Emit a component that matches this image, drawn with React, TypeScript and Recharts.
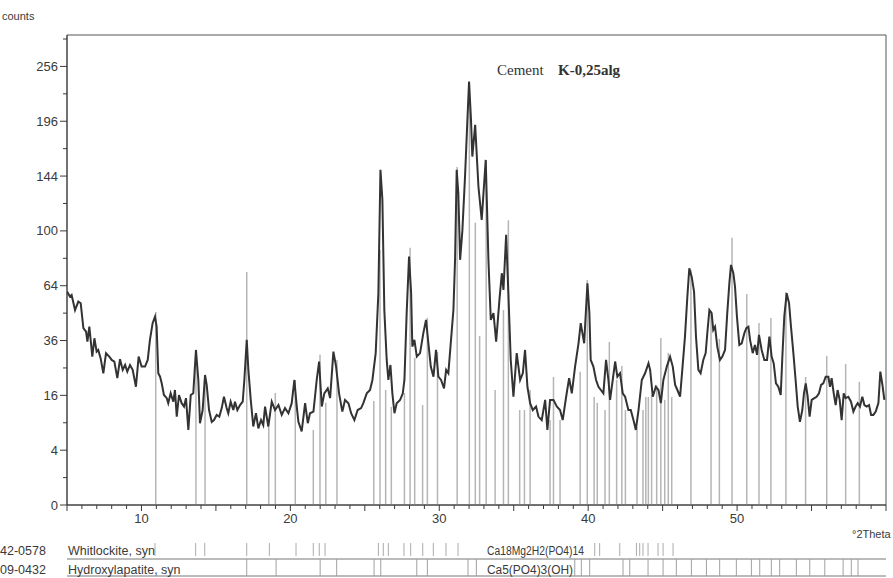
import { ComposedChart, Line, XAxis, YAxis, ReferenceLine, ReferenceArea } from "recharts";

// XRD scan: 2theta (deg) and counts
const twoTheta = [
  5.0, 5.2, 5.31, 5.54, 5.76, 5.92, 6.1, 6.28, 6.37, 6.5,
  6.7, 6.84, 6.99, 7.1, 7.26, 7.44, 7.62, 7.84, 8.0, 8.18,
  8.38, 8.56, 8.74, 8.9, 9.05, 9.23, 9.41, 9.63, 9.81, 10.01,
  10.24, 10.42, 10.57, 10.75, 10.91, 11.02, 11.13, 11.25, 11.36, 11.51,
  11.7, 11.8, 11.96, 12.14, 12.25, 12.37, 12.52, 12.7, 12.86, 12.99,
  13.15, 13.31, 13.48, 13.66, 13.82, 13.93, 14.11, 14.27, 14.38, 14.54,
  14.72, 14.87, 15.05, 15.23, 15.39, 15.54, 15.72, 15.83, 15.99, 16.17,
  16.28, 16.44, 16.62, 16.8, 16.91, 17.07, 17.18, 17.34, 17.51, 17.69,
  17.85, 18.03, 18.18, 18.3, 18.52, 18.75, 18.97, 19.2, 19.42, 19.64,
  19.87, 20.09, 20.27, 20.43, 20.54, 20.76, 20.99, 21.17, 21.32, 21.55,
  21.77, 21.93, 22.11, 22.28, 22.51, 22.67, 22.89, 23.07, 23.27, 23.49,
  23.67, 23.9, 24.08, 24.3, 24.52, 24.75, 24.9, 25.13, 25.35, 25.51,
  25.73, 25.91, 26.05, 26.18, 26.31, 26.47, 26.58, 26.72, 26.85, 26.99,
  27.14, 27.37, 27.55, 27.66, 27.81, 27.97, 28.11, 28.19, 28.33, 28.49,
  28.71, 28.93, 29.11, 29.27, 29.43, 29.61, 29.78, 29.94, 30.12, 30.32,
  30.46, 30.61, 30.77, 30.95, 31.06, 31.17, 31.28, 31.4, 31.55, 31.73,
  31.87, 32.0, 32.13, 32.22, 32.41, 32.63, 32.85, 33.12, 33.3, 33.46,
  33.64, 33.82, 34.04, 34.2, 34.31, 34.49, 34.64, 34.8, 34.98, 35.2,
  35.43, 35.61, 35.76, 35.92, 36.1, 36.28, 36.5, 36.66, 36.88, 37.11,
  37.26, 37.44, 37.67, 37.89, 38.11, 38.29, 38.52, 38.72, 38.9, 39.12,
  39.35, 39.5, 39.73, 39.95, 40.08, 40.17, 40.35, 40.53, 40.69, 40.85,
  41.02, 41.2, 41.36, 41.47, 41.65, 41.81, 41.96, 42.14, 42.32, 42.48,
  42.7, 42.86, 43.04, 43.2, 43.38, 43.6, 43.82, 44.05, 44.16, 44.34,
  44.54, 44.72, 44.88, 45.05, 45.28, 45.5, 45.68, 45.84, 45.99, 46.17,
  46.32, 46.5, 46.66, 46.79, 46.95, 47.11, 47.24, 47.4, 47.55, 47.73,
  47.89, 48.0, 48.14, 48.29, 48.4, 48.52, 48.67, 48.85, 49.01, 49.19,
  49.34, 49.48, 49.59, 49.75, 49.86, 49.99, 50.15, 50.31, 50.49, 50.62,
  50.76, 50.87, 51.05, 51.2, 51.34, 51.47, 51.65, 51.83, 52.01, 52.17,
  52.32, 52.46, 52.61, 52.77, 52.93, 53.04, 53.17, 53.33, 53.49, 53.62,
  53.78, 53.93, 54.07, 54.22, 54.38, 54.49, 54.61, 54.74, 54.87, 55.01,
  55.19, 55.34, 55.5, 55.64, 55.79, 55.95, 56.13, 56.24, 56.35, 56.49,
  56.62, 56.75, 56.89, 57.02, 57.16, 57.29, 57.47, 57.65, 57.81, 57.96,
  58.1, 58.25, 58.41, 58.55, 58.7, 58.86, 59.0, 59.15, 59.31, 59.49,
  59.62, 59.76, 59.89,
];

const counts = [
  60.6, 57.8, 58.7, 50.6, 55.1, 54.2, 41.6, 40.0, 35.5, 42.3,
  29.3, 37.0, 31.3, 32.0, 28.6, 23.1, 30.7, 29.3, 28.0, 27.4,
  21.4, 28.3, 24.3, 26.1, 23.7, 26.1, 24.3, 18.6, 29.3, 25.5,
  25.5, 28.0, 36.3, 44.0, 47.2, 42.3, 23.1, 21.9, 19.7, 16.1,
  15.2, 13.8, 16.6, 14.2, 17.6, 10.4, 16.1, 13.8, 12.9, 15.2,
  7.5, 16.1, 16.6, 32.0, 20.8, 8.9, 12.0, 22.5, 19.2, 12.0,
  9.2, 9.6, 10.8, 10.4, 12.5, 15.6, 12.5, 11.2, 14.2, 12.0,
  14.2, 12.0, 13.3, 14.2, 20.8, 36.3, 24.3, 14.7, 8.2, 11.2,
  7.8, 9.6, 8.5, 12.9, 8.2, 14.2, 12.0, 13.3, 10.8, 12.5,
  11.2, 13.8, 20.8, 12.9, 9.2, 7.2, 13.8, 8.9, 11.2, 11.6,
  20.8, 27.4, 12.9, 16.6, 18.1, 15.2, 31.3, 25.5, 16.6, 11.6,
  14.7, 13.8, 11.2, 9.6, 12.0, 12.5, 13.8, 16.6, 17.6, 20.8,
  30.7, 59.7, 149.5, 124, 50.6, 28.0, 20.8, 26.1, 16.6, 11.2,
  13.8, 14.7, 16.6, 20.8, 49.0, 82.1, 59.7, 33.4, 36.3, 29.3,
  30.7, 39.3, 45.6, 34.8, 25.5, 21.9, 32.0, 21.9, 20.8, 18.1,
  24.3, 23.1, 34.8, 50.6, 80.0, 149.5, 129, 80.0, 100, 143.6,
  190.6, 238.7, 197.4, 161.6, 192.3, 135, 108.2, 158.5, 80, 45.6,
  49.0, 35.5, 56.0, 71.5, 61.6, 97.1, 59.7, 28.0, 15.6, 30.7,
  20.8, 23.1, 32.0, 18.6, 13.8, 12.0, 12.9, 10.4, 9.6, 14.7,
  7.5, 14.7, 14.7, 12.9, 12.0, 9.6, 15.6, 21.4, 16.6, 25.5,
  34.8, 44.0, 34.8, 65.4, 49.0, 28.0, 25.5, 20.8, 18.6, 17.6,
  16.6, 28.0, 20.8, 14.7, 20.8, 27.4, 21.9, 23.1, 16.6, 15.6,
  12.0, 12.0, 9.6, 7.5, 12.0, 20.8, 23.1, 26.7, 24.3, 15.6,
  18.6, 17.6, 13.8, 20.8, 25.5, 29.3, 25.5, 19.2, 17.6, 15.6,
  24.3, 37.7, 57.8, 74.6, 69.4, 60.6, 37.7, 24.3, 23.1, 28.0,
  30.7, 39.3, 50.6, 49.0, 40.8, 42.3, 33.4, 28.0, 29.3, 32.0,
  49.0, 65.4, 76.7, 71.5, 63.5, 47.2, 34.1, 34.8, 39.3, 41.6,
  42.3, 36.3, 30.7, 34.1, 30.0, 38.5, 32.0, 28.0, 28.0, 37.7,
  29.3, 26.7, 19.7, 18.6, 16.1, 29.3, 47.2, 59.7, 54.2, 42.3,
  30.7, 20.8, 12.9, 9.2, 12.0, 16.6, 19.7, 15.6, 10.4, 14.7,
  15.2, 15.6, 16.6, 19.2, 19.7, 21.9, 21.9, 18.6, 21.4, 16.6,
  13.3, 17.6, 14.7, 9.6, 16.6, 15.2, 15.6, 14.2, 11.6, 12.9,
  13.8, 12.9, 15.6, 13.3, 12.9, 13.3, 10.8, 10.8, 11.6, 13.8,
  23.7, 19.2, 14.7,
];

// reference pattern sticks drawn in the plot
const stickPos = [
  10.96, 13.66, 14.27, 17.07, 18.55, 18.99, 20.33, 21.54, 21.99, 22.38,
  23.13, 25.6, 26.02, 26.4, 26.78, 27.66, 28.04, 28.35, 28.88, 29.2,
  29.88, 31.2, 32.02, 32.42, 32.71, 33.15, 33.75, 34.31, 34.64, 35.4,
  35.72, 36.1, 37.44, 37.67, 38.11, 39.46, 39.94, 40.4, 40.61, 41.13,
  41.42, 41.91, 42.26, 42.5, 43.28, 43.68, 43.87, 44.04, 44.26, 44.6,
  44.88, 45.14, 45.38, 45.61, 46.9, 48.25, 48.81, 49.66, 50.65, 51.47,
  52.27, 53.28, 54.6, 56.02, 57.29, 58.21,
];
const stickCounts = [
  49.6, 32, 19.2, 72.3, 8.1, 16.7, 20.8, 7.5, 30, 13.9,
  28, 14.4, 86.6, 17.6, 12.8, 16.7, 88, 28.8, 13.3, 46.6,
  31.2, 152, 237, 106, 38, 158, 17.6, 50.6, 108, 12,
  12, 17.6, 9.6, 21.8, 9.6, 23.6, 67.4, 15.5, 13.9, 12,
  35.4, 20.8, 25.7, 12, 8.1, 12, 15.5, 15.5, 16.1, 19.2,
  37.1, 14.7, 30.8, 15.5, 73.6, 50.1, 36.7, 95, 59.3, 44.1,
  46.6, 60.4, 21.8, 29.6, 26.5, 20.2,
];

// stick positions in the two reference strips under the axis
const whitlockitePos = [
  10.91, 13.64, 14.25, 17.07, 18.59, 20.38, 21.54, 21.94, 22.33, 25.91,
  26.24, 26.58, 27.63, 28.08, 28.89, 29.6, 30.45, 31.26, 40.44, 40.77,
  42.12, 43.24, 43.46, 43.68, 44.02, 44.69, 45.03, 45.7,
];
const hydroxylapatitePos = [
  17.07, 19.04, 22.0, 23.11, 25.62, 26.07, 28.49, 29.2, 31.93, 32.49,
  39.1, 39.54, 40.1, 42.34, 42.79, 44.02, 45.03, 45.92, 46.93, 47.94,
  48.83, 49.95, 50.96, 51.52, 52.3, 52.86, 53.98, 54.88, 55.89, 57.12,
  57.67, 58.12,
];

const yMajorTicks = [0, 4, 16, 36, 64, 100, 144, 196, 256];
const yAllTicks = [0, 1, 4, 9, 16, 25, 36, 49, 64, 81, 100, 121, 144, 169, 196, 225, 256, 289];
const xLabelTicks = [10, 20, 30, 40, 50];
const xAllTicks = Array.from({ length: 56 }, (_, i) => 5 + i);

const sans = "'Liberation Sans', Arial, Helvetica, sans-serif";
const serif = "'Liberation Serif', 'Times New Roman', serif";
const ink = "#3a3a3a";

function YTick(props: any) {
  const { x, y, payload } = props;
  const major = yMajorTicks.includes(payload.value);
  return (
    <g>
      <line x1={x - (major ? 7 : 4)} x2={x} y1={y} y2={y} stroke={ink} />
      {major && (
        <text x={x - 9} y={y + 4.5} textAnchor="end" fontSize={13} fill={ink} fontFamily={sans}>
          {payload.value}
        </text>
      )}
    </g>
  );
}

function XTick(props: any) {
  const { x, y, payload } = props;
  const v = payload.value as number;
  return (
    <g>
      <line x1={x} x2={x} y1={y} y2={y + (v % 5 === 0 ? 6 : 4)} stroke={ink} />
      {xLabelTicks.includes(v) && (
        <text x={x} y={y + 18} textAnchor="middle" fontSize={13} fill={ink} fontFamily={sans}>
          {v}
        </text>
      )}
    </g>
  );
}

// both pattern strips share one small chart: y 0..1 is hydroxylapatite, 1..2 whitlockite
function Strips() {
  const rows = [
    ...hydroxylapatitePos.map((p) => ({ x: p, base: 0 })),
    ...whitlockitePos.map((p) => ({ x: p, base: 0 })),
  ].sort((a, b) => a.x - b.x);
  return (
    <div style={{ position: "absolute", left: 0, top: 534 }}>
      <ComposedChart width={893} height={44} data={rows} margin={{ top: 8, right: 7, bottom: 2, left: 67 }}>
        <XAxis type="number" dataKey="x" domain={[5, 60]} tick={false} tickLine={false} axisLine={false} height={0} allowDataOverflow />
        <YAxis type="number" domain={[0, 2]} tick={false} tickLine={false} axisLine={false} width={0} allowDataOverflow />
        <Line dataKey="base" stroke="none" dot={false} isAnimationActive={false} />
        <ReferenceLine y={0} stroke="#777" />
        <ReferenceLine y={1} stroke="#777" />
        {hydroxylapatitePos.map((p, i) => (
          <ReferenceLine key={"h" + i} segment={[{ x: p, y: 0 }, { x: p, y: 1 }]} stroke="#a0a0a0" />
        ))}
        {whitlockitePos.map((p, i) => (
          <ReferenceLine key={"w" + i} segment={[{ x: p, y: 1.18 }, { x: p, y: 1.94 }]} stroke="#ababab" />
        ))}
      </ComposedChart>
    </div>
  );
}

export default function App() {
  const scan = twoTheta.map((t, i) => ({ t, c: counts[i] }));
  return (
    <div style={{ position: "absolute", left: 0, top: 0, width: 893, height: 578, background: "#fff", overflow: "hidden" }}>
      <div style={{ position: "absolute", left: 0, top: 0 }}>
        <ComposedChart width={893} height={540} data={scan} margin={{ top: 35, right: 7, bottom: 0, left: 0 }}>
          <XAxis
            dataKey="t"
            type="number"
            domain={[5, 60]}
            ticks={xAllTicks}
            interval={0}
            tickSize={0}
            tickMargin={0}
            tickLine={false}
            tick={XTick}
            height={35}
            axisLine={{ stroke: ink }}
            allowDataOverflow
          />
          <YAxis
            type="number"
            scale="sqrt"
            domain={[0, 294]}
            ticks={yAllTicks}
            interval={0}
            tickSize={0}
            tickMargin={0}
            tickLine={false}
            tick={YTick}
            width={67}
            axisLine={{ stroke: ink }}
            allowDataOverflow
          />
          <ReferenceArea x1={5} x2={60} y1={0} y2={294} fill="none" stroke="#555" />
          {stickPos.map((p, i) => (
            <ReferenceLine
              key={i}
              segment={[{ x: p, y: 0 }, { x: p, y: stickCounts[i] }]}
              stroke="#b5b5b5"
              strokeWidth={1.5}
            />
          ))}
          <Line dataKey="c" type="linear" stroke="#333" strokeWidth={2} dot={false} isAnimationActive={false} />
        </ComposedChart>
      </div>

      <Strips />

      <svg width={893} height={578} style={{ position: "absolute", left: 0, top: 0, pointerEvents: "none" }}>
        <text x={2} y={20} fontSize={11} fill={ink} fontFamily={sans}>counts</text>
        <text x={497} y={75} fontSize={15} fill="#333" fontFamily={serif}>
          Cement
          <tspan x={558} fontWeight="bold">K-0,25alg</tspan>
        </text>
        <text x={852} y={538} fontSize={11} fill={ink} fontFamily={sans}>°2Theta</text>
        <text x={0} y={555} fontSize={12.5} fill={ink} fontFamily={sans}>42-0578</text>
        <text x={68} y={555} fontSize={12.5} fill={ink} fontFamily={sans}>Whitlockite, syn</text>
        <text x={487} y={555} fontSize={12.5} fill={ink} fontFamily={sans} textLength={97} lengthAdjust="spacingAndGlyphs">
          Ca18Mg2H2(PO4)14
        </text>
        <text x={0} y={574} fontSize={12.5} fill={ink} fontFamily={sans}>09-0432</text>
        <text x={68} y={574} fontSize={12.5} fill={ink} fontFamily={sans}>Hydroxylapatite, syn</text>
        <text x={487} y={574} fontSize={12.5} fill={ink} fontFamily={sans} textLength={86} lengthAdjust="spacingAndGlyphs">
          Ca5(PO4)3(OH)
        </text>
      </svg>
    </div>
  );
}
